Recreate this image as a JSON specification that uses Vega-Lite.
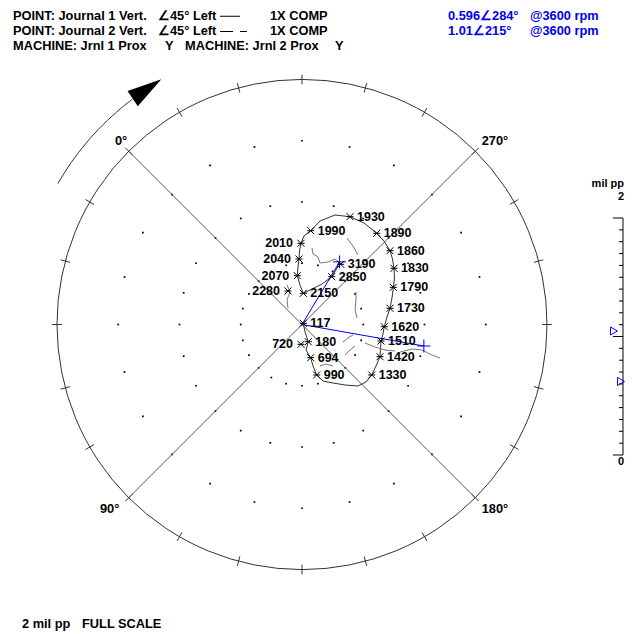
{
"$schema": "https://vega.github.io/schema/vega-lite/v6.json",
"width": 634, "height": 634, "autosize": {"type": "none"}, "padding": 0,
"background": "white",
"config": {"view": {"stroke": null}, "text": {"font": "Liberation Sans", "fontWeight": "bold", "fontSize": 12.8}},
"datasets": {
"grid": [
{"x":0.5,"y":0},{"x":0.483,"y":0.1294},{"x":0.433,"y":0.25},{"x":0.3536,"y":0.3536},{"x":0.25,"y":0.433},{"x":0.1294,"y":0.483},{"x":0,"y":0.5},{"x":-0.1294,"y":0.483},{"x":-0.25,"y":0.433},{"x":-0.3536,"y":0.3536},{"x":-0.433,"y":0.25},{"x":-0.483,"y":0.1294},{"x":-0.5,"y":0},{"x":-0.483,"y":-0.1294},{"x":-0.433,"y":-0.25},{"x":-0.3536,"y":-0.3536},{"x":-0.25,"y":-0.433},{"x":-0.1294,"y":-0.483},{"x":0,"y":-0.5},{"x":0.1294,"y":-0.483},{"x":0.25,"y":-0.433},{"x":0.3536,"y":-0.3536},{"x":0.433,"y":-0.25},{"x":0.483,"y":-0.1294},
{"x":1,"y":0},{"x":0.9659,"y":0.2588},{"x":0.866,"y":0.5},{"x":0.7071,"y":0.7071},{"x":0.5,"y":0.866},{"x":0.2588,"y":0.9659},{"x":0,"y":1},{"x":-0.2588,"y":0.9659},{"x":-0.5,"y":0.866},{"x":-0.7071,"y":0.7071},{"x":-0.866,"y":0.5},{"x":-0.9659,"y":0.2588},{"x":-1,"y":0},{"x":-0.9659,"y":-0.2588},{"x":-0.866,"y":-0.5},{"x":-0.7071,"y":-0.7071},{"x":-0.5,"y":-0.866},{"x":-0.2588,"y":-0.9659},{"x":0,"y":-1},{"x":0.2588,"y":-0.9659},{"x":0.5,"y":-0.866},{"x":0.7071,"y":-0.7071},{"x":0.866,"y":-0.5},{"x":0.9659,"y":-0.2588},
{"x":1.5,"y":0},{"x":1.4489,"y":0.3882},{"x":1.299,"y":0.75},{"x":1.0607,"y":1.0607},{"x":0.75,"y":1.299},{"x":0.3882,"y":1.4489},{"x":0,"y":1.5},{"x":-0.3882,"y":1.4489},{"x":-0.75,"y":1.299},{"x":-1.0607,"y":1.0607},{"x":-1.299,"y":0.75},{"x":-1.4489,"y":0.3882},{"x":-1.5,"y":0},{"x":-1.4489,"y":-0.3882},{"x":-1.299,"y":-0.75},{"x":-1.0607,"y":-1.0607},{"x":-0.75,"y":-1.299},{"x":-0.3882,"y":-1.4489},{"x":0,"y":-1.5},{"x":0.3882,"y":-1.4489},{"x":0.75,"y":-1.299},{"x":1.0607,"y":-1.0607},{"x":1.299,"y":-0.75},{"x":1.4489,"y":-0.3882}
],
"ticks": [
{"x":1.96,"y":0,"x2":2.04,"y2":0},{"x":1.8932,"y":0.5073,"x2":1.9705,"y2":0.528},{"x":1.6974,"y":0.98,"x2":1.7667,"y2":1.02},{"x":1.3859,"y":1.3859,"x2":1.4425,"y2":1.4425},{"x":0.98,"y":1.6974,"x2":1.02,"y2":1.7667},{"x":0.5073,"y":1.8932,"x2":0.528,"y2":1.9705},{"x":0,"y":1.96,"x2":0,"y2":2.04},{"x":-0.5073,"y":1.8932,"x2":-0.528,"y2":1.9705},{"x":-0.98,"y":1.6974,"x2":-1.02,"y2":1.7667},{"x":-1.3859,"y":1.3859,"x2":-1.4425,"y2":1.4425},{"x":-1.6974,"y":0.98,"x2":-1.7667,"y2":1.02},{"x":-1.8932,"y":0.5073,"x2":-1.9705,"y2":0.528},{"x":-1.96,"y":0,"x2":-2.04,"y2":0},{"x":-1.8932,"y":-0.5073,"x2":-1.9705,"y2":-0.528},{"x":-1.6974,"y":-0.98,"x2":-1.7667,"y2":-1.02},{"x":-1.3859,"y":-1.3859,"x2":-1.4425,"y2":-1.4425},{"x":-0.98,"y":-1.6974,"x2":-1.02,"y2":-1.7667},{"x":-0.5073,"y":-1.8932,"x2":-0.528,"y2":-1.9705},{"x":0,"y":-1.96,"x2":0,"y2":-2.04},{"x":0.5073,"y":-1.8932,"x2":0.528,"y2":-1.9705},{"x":0.98,"y":-1.6974,"x2":1.02,"y2":-1.7667},{"x":1.3859,"y":-1.3859,"x2":1.4425,"y2":-1.4425},{"x":1.6974,"y":-0.98,"x2":1.7667,"y2":-1.02},{"x":1.8932,"y":-0.5073,"x2":1.9705,"y2":-0.528}
],
"diag": [{"x":-1.4142,"y":1.4142,"x2":1.4142,"y2":-1.4142},{"x":1.4142,"y":1.4142,"x2":-1.4142,"y2":-1.4142}],
"center": [{"x":0,"y":0}],
"arc": [{"i":0,"x":-1.9936,"y":1.151},{"i":1,"x":-1.8857,"y":1.3204},{"i":2,"x":-1.7634,"y":1.4797},{"i":3,"x":-1.6278,"y":1.6278},{"i":4,"x":-1.4797,"y":1.7634},{"i":5,"x":-1.3854,"y":1.8385}],
"arrowhead": [{"x":-1.2653,"y":1.9224}],
"j1": [
{"i":1,"x":0.0106,"y":0.0098},{"i":2,"x":0.0245,"y":-0.0612},{"i":3,"x":0.0514,"y":-0.1404},{"i":4,"x":0.0327,"y":-0.2082},{"i":5,"x":0.071,"y":-0.271},{"i":6,"x":0.0898,"y":-0.3388},{"i":7,"x":0.12,"y":-0.4122},{"i":8,"x":0.1714,"y":-0.4612},{"i":9,"x":0.2531,"y":-0.4776},{"i":10,"x":0.351,"y":-0.4939},{"i":11,"x":0.4571,"y":-0.502},{"i":12,"x":0.5224,"y":-0.4694},{"i":13,"x":0.569,"y":-0.4122},{"i":14,"x":0.6041,"y":-0.3388},{"i":15,"x":0.6367,"y":-0.2629},{"i":16,"x":0.6449,"y":-0.1347},{"i":17,"x":0.6612,"y":-0.0776},{"i":18,"x":0.6718,"y":-0.018},{"i":19,"x":0.6939,"y":0.0612},{"i":20,"x":0.7184,"y":0.1322},{"i":21,"x":0.7347,"y":0.2163},{"i":22,"x":0.7453,"y":0.3037},{"i":23,"x":0.7551,"y":0.3796},{"i":24,"x":0.751,"y":0.4588},{"i":25,"x":0.7388,"y":0.5347},{"i":26,"x":0.7184,"y":0.6024},{"i":27,"x":0.6694,"y":0.6816},{"i":28,"x":0.6098,"y":0.7445},{"i":29,"x":0.5061,"y":0.8286},{"i":30,"x":0.3918,"y":0.88},{"i":31,"x":0.2694,"y":0.8939},{"i":32,"x":0.1469,"y":0.8449},{"i":33,"x":0.071,"y":0.7657},{"i":34,"x":0.0163,"y":0.7224},{"i":35,"x":-0.0082,"y":0.6629},{"i":36,"x":-0.0204,"y":0.6},{"i":37,"x":-0.0245,"y":0.5347},{"i":38,"x":-0.0327,"y":0.4694},{"i":39,"x":-0.0384,"y":0.3984},{"i":40,"x":-0.0163,"y":0.3224},{"i":41,"x":0.0106,"y":0.2547},{"i":42,"x":0.0816,"y":0.2898},{"i":43,"x":0.1633,"y":0.3306},{"i":44,"x":0.2424,"y":0.3902},{"i":45,"x":0.2776,"y":0.4449},{"i":46,"x":0.307,"y":0.511}
],
"j2": [
{"seg":"A","i":1,"x":0.0816,"y":0.6245},{"seg":"A","i":2,"x":0.0898,"y":0.5755},{"seg":"A","i":3,"x":0.1306,"y":0.551},{"seg":"A","i":4,"x":0.1469,"y":0.502},{"seg":"A","i":5,"x":0.2122,"y":0.5102},{"seg":"A","i":6,"x":0.2694,"y":0.5347},{"seg":"A","i":7,"x":0.3184,"y":0.4939},
{"seg":"B","i":1,"x":0.3673,"y":0.7061},{"seg":"B","i":2,"x":0.4163,"y":0.6408},{"seg":"B","i":3,"x":0.4571,"y":0.5673},
{"seg":"C","i":1,"x":0.4408,"y":0.2653},{"seg":"C","i":2,"x":0.4408,"y":0.2},{"seg":"C","i":3,"x":0.4327,"y":0.1184},{"seg":"C","i":4,"x":0.449,"y":0.0531},
{"seg":"D","i":1,"x":0.3347,"y":-0.1429},{"seg":"D","i":2,"x":0.3755,"y":-0.1102},{"seg":"D","i":3,"x":0.4163,"y":-0.0857},
{"seg":"E","i":1,"x":0.351,"y":-0.249},{"seg":"E","i":2,"x":0.3918,"y":-0.2082},{"seg":"E","i":3,"x":0.4327,"y":-0.1755},
{"seg":"F","i":1,"x":0.5143,"y":-0.151},{"seg":"F","i":2,"x":0.5959,"y":-0.1837},{"seg":"F","i":3,"x":0.6776,"y":-0.2082},{"seg":"F","i":4,"x":0.7592,"y":-0.2163},
{"seg":"G","i":1,"x":0.8,"y":-0.2245},{"seg":"G","i":2,"x":0.898,"y":-0.2},{"seg":"G","i":3,"x":0.9796,"y":-0.2082},{"seg":"G","i":4,"x":1.0612,"y":-0.249},{"seg":"G","i":5,"x":1.1265,"y":-0.2735},
{"seg":"H","i":1,"x":0.1469,"y":-0.3388},{"seg":"H","i":2,"x":0.1959,"y":-0.3224},{"seg":"H","i":3,"x":0.2531,"y":-0.3388},
{"seg":"I","i":1,"x":-0.1224,"y":0.3224},{"seg":"I","i":2,"x":-0.098,"y":0.2653},{"seg":"I","i":3,"x":-0.1224,"y":0.2},{"seg":"I","i":4,"x":-0.1143,"y":0.1347}
],
"vectors": [{"x":0,"y":0,"x2":0.307,"y2":0.511},{"x":0,"y":0,"x2":0.9947,"y2":-0.1754}],
"vecends": [{"x":0.307,"y":0.511},{"x":0.9947,"y":-0.1754}],
"rpm": [
{"t":"117","x":0.0106,"y":0.0098,"side":"R"},{"t":"180","x":0.0514,"y":-0.1404,"side":"R"},{"t":"720","x":-0.0082,"y":-0.1616,"side":"L"},{"t":"694","x":0.071,"y":-0.271,"side":"R"},{"t":"990","x":0.12,"y":-0.4122,"side":"R"},{"t":"1330","x":0.569,"y":-0.4122,"side":"R"},{"t":"1420","x":0.6367,"y":-0.2629,"side":"R"},{"t":"1510","x":0.6449,"y":-0.1347,"side":"R"},{"t":"1620","x":0.6718,"y":-0.018,"side":"R"},{"t":"1730","x":0.7184,"y":0.1322,"side":"R"},{"t":"1790","x":0.7453,"y":0.3037,"side":"R"},{"t":"1830","x":0.751,"y":0.4588,"side":"R"},{"t":"1860","x":0.7184,"y":0.6024,"side":"R"},{"t":"1890","x":0.6098,"y":0.7445,"side":"R"},{"t":"1930","x":0.3918,"y":0.88,"side":"R"},{"t":"1990","x":0.071,"y":0.7657,"side":"R"},{"t":"2010","x":-0.0082,"y":0.6629,"side":"L"},{"t":"2040","x":-0.0245,"y":0.5347,"side":"L"},{"t":"2070","x":-0.0384,"y":0.3984,"side":"L"},{"t":"2150","x":0.0106,"y":0.2547,"side":"R"},{"t":"2280","x":-0.1143,"y":0.2735,"side":"L"},{"t":"2850","x":0.2424,"y":0.3902,"side":"R"},{"t":"3190","x":0.3159,"y":0.4914,"side":"R"}
],
"blacktext": [
{"t":"POINT: Journal 1 Vert.","x":-2.3592,"y":2.4857},{"t":"∠45° Left","x":-1.1755,"y":2.4857},{"t":"1X COMP","x":-0.2612,"y":2.4857},
{"t":"POINT: Journal 2 Vert.","x":-2.3592,"y":2.3633},{"t":"∠45° Left","x":-1.1755,"y":2.3633},{"t":"1X COMP","x":-0.2612,"y":2.3633},
{"t":"MACHINE:  Jrnl 1 Prox","x":-2.3592,"y":2.2408},{"t":"Y","x":-1.1184,"y":2.2408},{"t":"MACHINE:  Jrnl 2 Prox","x":-0.9551,"y":2.2408},{"t":"Y","x":0.2694,"y":2.2408},
{"t":"2 mil pp","x":-2.2857,"y":-2.4776},{"t":"FULL SCALE","x":-1.7959,"y":-2.4776},
{"t":"0°","x":-1.5265,"y":1.4653},{"t":"270°","x":1.4669,"y":1.4653},{"t":"90°","x":-1.649,"y":-1.5388},{"t":"180°","x":1.4669,"y":-1.5388}
],
"bluetext": [
{"t":"0.596∠284°","x":1.1918,"y":2.4857},{"t":"@3600 rpm","x":1.8612,"y":2.4857},{"t":"1.01∠215°","x":1.1918,"y":2.3633},{"t":"@3600 rpm","x":1.8612,"y":2.3633}
],
"scaletext": [{"t":"mil pp","x":2.6286,"y":1.1224},{"t":"2","x":2.6286,"y":1.0163},{"t":"0","x":2.6286,"y":-1.1469}],
"solidkey": [{"x":-0.6694,"x2":-0.5061,"y":2.5163}],
"dashkey": [{"x":-0.6694,"x2":-0.449,"y":2.3918}],
"bar": [{"x":2.6204,"y":-1.0653,"y2":0.8693}],
"bartick": [
{"x":2.5388,"y":-1.0653},{"x":2.5878,"y":-0.9686},{"x":2.5878,"y":-0.8718},{"x":2.5878,"y":-0.7751},{"x":2.5878,"y":-0.6784},{"x":2.5878,"y":-0.5816},{"x":2.5878,"y":-0.4849},{"x":2.5878,"y":-0.3882},{"x":2.5878,"y":-0.2915},{"x":2.5878,"y":-0.1947},{"x":2.5388,"y":-0.098},{"x":2.5878,"y":-0.0013},{"x":2.5878,"y":0.0955},{"x":2.5878,"y":0.1922},{"x":2.5878,"y":0.2889},{"x":2.5878,"y":0.3857},{"x":2.5878,"y":0.4824},{"x":2.5878,"y":0.5791},{"x":2.5878,"y":0.6758},{"x":2.5878,"y":0.7726},{"x":2.5388,"y":0.8693}
],
"tri": [{"x":2.5469,"y":-0.0531},{"x":2.6041,"y":-0.4653}]
},
"encoding": {
"x": {"field": "x", "type": "quantitative", "scale": {"domain": [-2.4653, 2.7102], "nice": false, "zero": false}, "axis": null},
"y": {"field": "y", "type": "quantitative", "scale": {"domain": [-2.5265, 2.649], "nice": false, "zero": false}, "axis": null}
},
"layer": [
{"data": {"name": "grid"}, "mark": {"type": "square", "size": 3, "color": "black", "opacity": 1}},
{"data": {"name": "ticks"}, "mark": {"type": "rule", "color": "#333", "strokeWidth": 1}, "encoding": {"x2": {"field": "x2"}, "y2": {"field": "y2"}}},
{"data": {"name": "diag"}, "mark": {"type": "rule", "color": "#555", "strokeWidth": 1}, "encoding": {"x2": {"field": "x2"}, "y2": {"field": "y2"}}},
{"data": {"name": "center"}, "mark": {"type": "point", "shape": "circle", "size": 240100, "filled": false, "stroke": "#333", "strokeWidth": 1, "opacity": 1}},
{"data": {"name": "arc"}, "mark": {"type": "line", "color": "#333", "strokeWidth": 1, "interpolate": "natural"}, "encoding": {"order": {"field": "i"}}},
{"data": {"name": "arrowhead"}, "mark": {"type": "point", "shape": "M 1 0 L -1 -0.53 L -1 0.53 Z", "size": 1197, "filled": true, "color": "black", "opacity": 1, "angle": 326}},
{"data": {"name": "j1"}, "mark": {"type": "line", "color": "#333", "strokeWidth": 1}, "encoding": {"order": {"field": "i"}}},
{"data": {"name": "j2"}, "mark": {"type": "line", "color": "#777", "strokeWidth": 1}, "encoding": {"order": {"field": "i"}, "detail": {"field": "seg"}}},
{"data": {"name": "vectors"}, "mark": {"type": "rule", "color": "#0000ee", "strokeWidth": 1}, "encoding": {"x2": {"field": "x2"}, "y2": {"field": "y2"}}},
{"data": {"name": "vecends"}, "mark": {"type": "point", "shape": "M -1 0 L 1 0 M 0 -1 L 0 1", "size": 169, "filled": false, "color": "#0000ee", "strokeWidth": 1, "opacity": 1}},
{"data": {"name": "rpm"}, "mark": {"type": "point", "shape": "M -1 -1 L 1 1 M 1 -1 L -1 1 M -1 0 L 1 0", "size": 49, "filled": false, "color": "black", "strokeWidth": 1, "opacity": 1}},
{"data": {"name": "rpm"}, "transform": [{"filter": "datum.side == 'R'"}], "mark": {"type": "text", "align": "left", "baseline": "middle", "dx": 7, "fontSize": 12.5, "color": "black"}, "encoding": {"text": {"field": "t"}}},
{"data": {"name": "rpm"}, "transform": [{"filter": "datum.side == 'L'"}], "mark": {"type": "text", "align": "right", "baseline": "middle", "dx": -8, "fontSize": 12.5, "color": "black"}, "encoding": {"text": {"field": "t"}}},
{"data": {"name": "blacktext"}, "mark": {"type": "text", "align": "left", "baseline": "alphabetic", "color": "black"}, "encoding": {"text": {"field": "t"}}},
{"data": {"name": "bluetext"}, "mark": {"type": "text", "align": "left", "baseline": "alphabetic", "color": "#0000ee"}, "encoding": {"text": {"field": "t"}}},
{"data": {"name": "scaletext"}, "mark": {"type": "text", "align": "right", "baseline": "alphabetic", "color": "black", "fontSize": 11}, "encoding": {"text": {"field": "t"}}},
{"data": {"name": "solidkey"}, "mark": {"type": "rule", "color": "black", "strokeWidth": 1}, "encoding": {"x2": {"field": "x2"}}},
{"data": {"name": "dashkey"}, "mark": {"type": "rule", "color": "black", "strokeWidth": 1, "strokeDash": [13, 7]}, "encoding": {"x2": {"field": "x2"}}},
{"data": {"name": "bar"}, "mark": {"type": "rule", "color": "black", "strokeWidth": 1}, "encoding": {"y2": {"field": "y2"}}},
{"data": {"name": "bartick"}, "mark": {"type": "rule", "color": "black", "strokeWidth": 1}, "encoding": {"x2": {"datum": 2.6204}}},
{"data": {"name": "tri"}, "mark": {"type": "point", "shape": "triangle-right", "size": 64, "filled": false, "color": "#0000ee", "strokeWidth": 1, "opacity": 1}}
]
}
